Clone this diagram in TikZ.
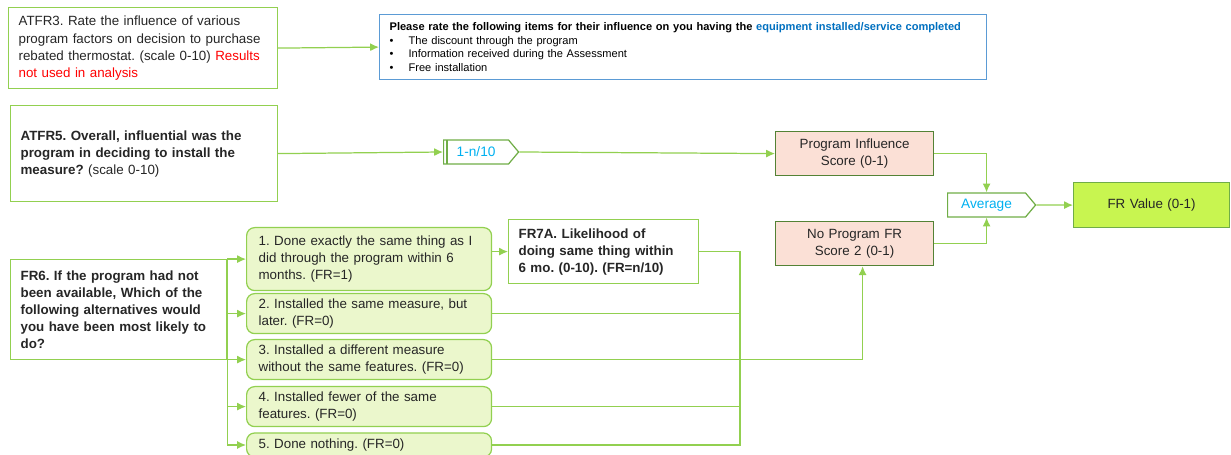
\documentclass[tikz,border=0pt]{standalone}
\usepackage{fontspec}
\setmainfont{Liberation Sans}
\usetikzlibrary{calc}
\usetikzlibrary{arrows.meta}
\usetikzlibrary{shapes.symbols}
\definecolor{lgreen}{RGB}{146,208,80}
\definecolor{dkgreen}{RGB}{84,130,53}
\definecolor{midgreen}{RGB}{112,173,71}
\definecolor{salmon}{RGB}{251,224,214}
\definecolor{optfill}{RGB}{235,247,204}
\definecolor{frfill}{RGB}{200,245,80}
\definecolor{qblue}{RGB}{91,155,213}
\definecolor{linkblue}{RGB}{0,112,192}
\definecolor{skyblue}{RGB}{0,176,240}
\definecolor{txt}{RGB}{38,38,38}
\definecolor{warnred}{RGB}{255,0,0}
\frenchspacing

\begin{document}
\begin{tikzpicture}[x=0.02cm,y=-0.02cm,>={Latex[length=5pt,width=4.5pt]},
  box/.style={draw=lgreen,line width=0.7pt,fill=white,anchor=north west,inner xsep=0.2cm,inner ysep=0pt,align=left,text=txt,font=\fontsize{7.6}{9.7}\selectfont},
  opt/.style={box,fill=optfill,rounded corners=0.16cm,inner xsep=0.24cm,text width=4.42cm},
  score/.style={box,draw=dkgreen,fill=salmon,align=center,text width=2.76cm,minimum height=0.88cm},
  calcsig/.style={shape=signal,signal to=east,signal pointer angle=100,draw=midgreen,line width=0.7pt,anchor=west,inner sep=0pt,minimum height=0.48cm,text=skyblue,font=\fontsize{7.8}{9.7}\selectfont},
  conn/.style={draw=lgreen,line width=0.7pt},
  arr/.style={conn,->}]

\useasboundingbox (0,0) rectangle (1231,455);

% questions
\node[box,text width=4.98cm,minimum height=1.62cm] (atfr3) at (8,7)
  {ATFR3. Rate the influence of various\\program factors on decision to purchase\\rebated thermostat. (scale 0-10) \textcolor{warnred}{Results}\\\textcolor{warnred}{not used in analysis}};
\node[box,draw=qblue,text width=11.74cm,minimum height=1.3cm,font=\fontsize{6.3}{7.9}\selectfont,text=black] (items) at (379,14)
  {\textbf{Please rate the following items for their influence on you having the \textcolor{linkblue}{equipment installed/service completed}}\\
   \makebox[0.38cm][l]{\textbullet}The discount through the program\\
   \makebox[0.38cm][l]{\textbullet}Information received during the Assessment\\
   \makebox[0.38cm][l]{\textbullet}Free installation};
\node[box,text width=4.94cm,minimum height=1.92cm] (atfr5) at (10,105)
  {\textbf{ATFR5. Overall, influential was the}\\\textbf{program in deciding to install the}\\\textbf{measure?} (scale 0-10)};
\node[box,text width=3.92cm,minimum height=2cm] (fr6) at (10,259)
  {\textbf{FR6. If the program had not}\\\textbf{been available, Which of the}\\\textbf{following alternatives would}\\\textbf{you have been most likely to}\\\textbf{do?}};
\node[box,text width=3.4cm,minimum height=1.28cm] (fr7a) at (508,219)
  {\textbf{FR7A. Likelihood of}\\\textbf{doing same thing within}\\\textbf{6 mo. (0-10). (FR=n/10)}};

% alternatives
\node[opt,minimum height=1.26cm] (opt1) at (246,227) {1. Done exactly the same thing as I\\did through the program within 6\\months. (FR=1)};
\node[opt,minimum height=0.8cm] (opt2) at (246,293) {2. Installed the same measure, but\\later. (FR=0)};
\node[opt,minimum height=0.8cm] (opt3) at (246,339) {3. Installed a different measure\\without the same features. (FR=0)};
\node[opt,minimum height=0.8cm] (opt4) at (246,386) {4. Installed fewer of the same\\features. (FR=0)};
\node[opt,minimum height=0.48cm,anchor=west] (opt5) at (246,445) {5. Done nothing. (FR=0)};

% scores
\node[calcsig,minimum width=1.5cm] (nf) at (443,152) {1-n/10};
\node[score] (pi) at (775,131) {Program Influence\\Score (0-1)};
\node[score] (np) at (775,221) {No Program FR\\Score 2 (0-1)};
\node[calcsig,minimum width=1.76cm] (avg) at (947,205) {Average};
\node[box,draw=midgreen,fill=frfill,align=center,text width=2.72cm,minimum height=0.9cm] (frv) at (1073,182) {FR Value (0-1)};

\draw[draw=midgreen,line width=0.7pt] ($(nf.west)+(4,-12)$) -- ($(nf.west)+(4,12)$);

\coordinate (rbus) at (740,445);

\draw[arr] (atfr3.east) -- (items.west);
\draw[arr] (atfr5.east) -- (nf.west);
\draw[arr] (nf.east) -- (pi.west);
\draw[arr] (pi.east) -| (avg.north);
\draw[arr] (np.east) -| (avg.south);
\draw[arr] (avg.east) -- (frv.west);

\draw[conn] (opt1.west -| fr6.east) -- (opt5.west -| fr6.east);
\foreach \o in {opt1,opt2,opt3,opt4,opt5}
  \draw[arr] (\o.west -| fr6.east) -- (\o.west);

\draw[arr] (opt1.east |- fr7a.west) -- (fr7a.west);
\draw[conn] (fr7a.east) -| (rbus) -- (opt5.east);
\draw[conn] (opt2.east) -- (opt2.east -| rbus);
\draw[conn] (opt4.east) -- (opt4.east -| rbus);
\draw[arr] (opt3.east) -| ($(np.south)+(8,0)$);
\end{tikzpicture}
\end{document}
